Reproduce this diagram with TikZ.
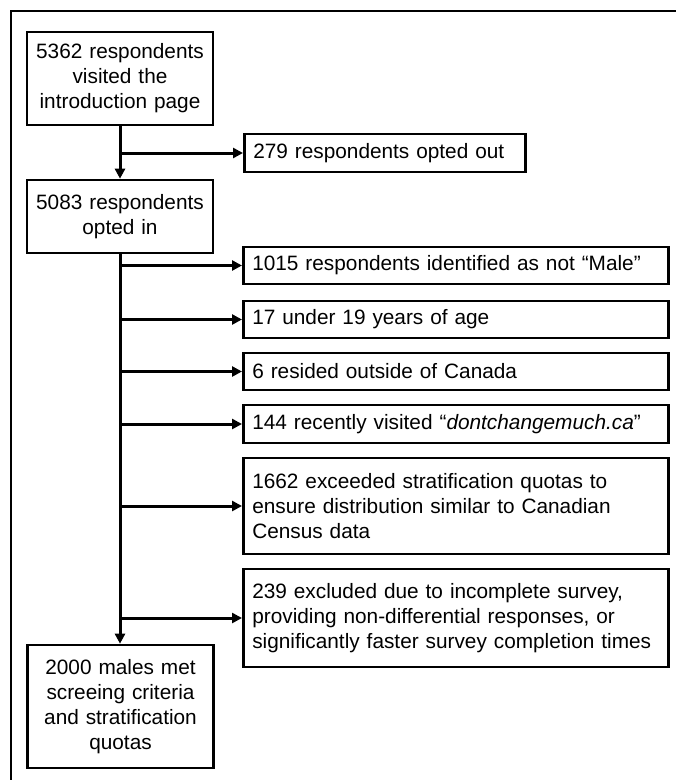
\documentclass[tikz,border=0pt]{standalone}
\usepackage{fontspec}
\setmainfont{Liberation Sans}
\usepackage{tikz}
\usetikzlibrary{arrows.meta, positioning}
\usepackage{xcolor}

\begin{document}
\begin{tikzpicture}[
  x=1pt, y=-1pt,
  mainbox/.style={rectangle, draw, line width=2.6pt, minimum width=186pt, inner sep=0pt, text width=180pt, align=center, font=\fontsize{20.8}{25}\selectfont},
  sidebox/.style={rectangle, draw, line width=2.6pt, anchor=west, minimum width=425pt, inner sep=0pt, text width=407pt, align=left, font=\fontsize{20.8}{25}\selectfont},
  arrow/.style={-{Triangle[length=10pt, width=10pt]}, line width=3pt},
  frame/.style={line width=1.2pt}
]
\useasboundingbox (0,0) rectangle (676,780);

% Outer frame
\draw[frame] (676,11) -- (11,11) -- (11,780);

% Main column
\node[mainbox, minimum height=93pt] (visited) at (120,78.5) {5362 respondents\\visited the\\introduction page};
\node[mainbox, minimum height=73pt] (optin) at (120,216.5) {5083 respondents\\opted in};
\node[mainbox, minimum height=123pt] (final) at (120.5,706.5) {2000 males met\\screeing criteria\\and stratification\\quotas};

% Exclusions
\node[sidebox, minimum width=281pt, minimum height=38pt, text width=263pt] (optout) at (243,153) {279 respondents opted out};
\node[sidebox, minimum height=37pt] (notmale) at (242,265.5) {1015 respondents identified as not “Male”};
\node[sidebox, minimum height=37pt] (underage) at (242,319.5) {17 under 19 years of age};
\node[sidebox, minimum height=37pt] (abroad) at (242,371.5) {6 resided outside of Canada};
\node[sidebox, minimum height=38pt] (website) at (242,424) {144 recently visited “\textit{dontchangemuch.ca}”};
\node[sidebox, minimum height=96pt] (quotas) at (242,506) {1662 exceeded stratification quotas to\\ensure distribution similar to Canadian\\Census data};
\node[sidebox, minimum height=98pt] (excluded) at (242,618) {239 excluded due to incomplete survey,\\providing non-differential responses, or\\significantly faster survey completion times};

% Flow
\draw[arrow] (visited) -- (optin);
\draw[arrow] (visited.south |- optout.west) -- (optout.west);
\draw[arrow] (optin.south) -- (optin.south |- final.north);
\foreach \n in {notmale, underage, abroad, website, quotas, excluded}
  \draw[arrow] (optin.south |- \n.west) -- (\n.west);

\end{tikzpicture}
\end{document}
